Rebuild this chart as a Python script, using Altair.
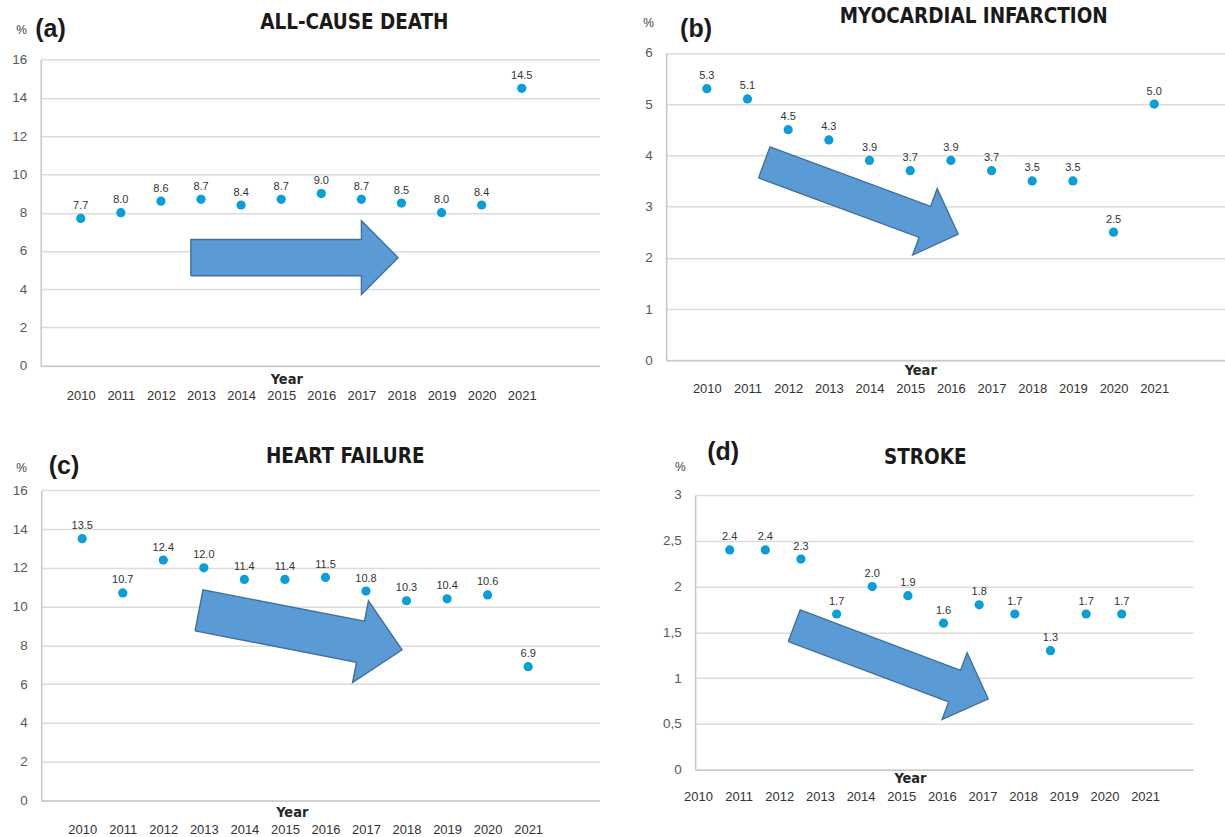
import math

import altair as alt
import pandas as pd

# ---------------------------------------------------------------- data
YEARS = list(range(2010, 2022))
ALL_CAUSE_DEATH = [7.7, 8.0, 8.6, 8.7, 8.4, 8.7, 9.0, 8.7, 8.5, 8.0, 8.4, 14.5]
MYOCARDIAL_INFARCTION = [5.3, 5.1, 4.5, 4.3, 3.9, 3.7, 3.9, 3.7, 3.5, 3.5, 2.5, 5.0]
HEART_FAILURE = [13.5, 10.7, 12.4, 12.0, 11.4, 11.4, 11.5, 10.8, 10.3, 10.4, 10.6, 6.9]
STROKE = [2.4, 2.4, 2.3, 1.7, 2.0, 1.9, 1.6, 1.8, 1.7, 1.3, 1.7, 1.7]

Y_TICKS_16 = [0, 2, 4, 6, 8, 10, 12, 14, 16]
Y_TICKS_6 = [0, 1, 2, 3, 4, 5, 6]
Y_TICKS_3 = [0, 0.5, 1, 1.5, 2, 2.5, 3]

# ---------------------------------------------------------------- styling
POINT_COLOR = "#0A9ED9"
ARROW_FILL = "#5B9BD5"
ARROW_STROKE = "#41719C"
TEXT_DARK = "#1a1a1a"
NARROW = "Liberation Sans Narrow, Arial Narrow, DejaVu Sans Condensed, sans-serif"
REGULAR = "Liberation Sans, Arial, sans-serif"

PANEL_W, PANEL_H = 560, 314
# top-left corner of the first panel's view inside the page
ORIGIN = (40, 52)

# Per-panel layout: scale ranges (pixels inside the view), annotation
# positions and the trend arrow (tail/tip in data units, sizes in pixels).
PANELS = [
    dict(letter="(a)", title="ALL-CAUSE DEATH", values=ALL_CAUSE_DEATH,
         x_domain=[2009, 2022.94], x_range=[0.7, 560],
         y_domain=[0, 16], y_range=[313.7, 7.3], y_ticks=Y_TICKS_16,
         label_pad=30, year_pos=(246.5, 13.3), pct_pos=(-19.7, -23.3),
         letter_pos=(10.5, -23.6), title_pos=(314.6, -28.9),
         arrow=dict(tail=(2012.746, 5.65), tip=(2017.913, 5.65),
                    shaft=36.4, head=74, head_len=36.6)),
    dict(letter="(b)", title="MYOCARDIAL INFARCTION", values=MYOCARDIAL_INFARCTION,
         x_domain=[2009, 2022.74], x_range=[0.7, 560],
         y_domain=[0, 6], y_range=[308.3, 0.5], y_ticks=Y_TICKS_6,
         label_pad=28.4, year_pos=(255, 10.5), pct_pos=(-18.2, -29.6),
         letter_pos=(30.6, -23.6), title_pos=(308.5, -35.6),
         arrow=dict(tail=(2011.412, 3.862), tip=(2016.18, 2.462),
                    shaft=33.1, head=70.8, head_len=35.5)),
    dict(letter="(c)", title="HEART FAILURE", values=HEART_FAILURE,
         x_domain=[2008.99, 2022.76], x_range=[1.3, 560],
         y_domain=[0, 16], y_range=[310.7, 0.3], y_ticks=Y_TICKS_16,
         label_pad=29.3, year_pos=(252, 12), pct_pos=(-20.3, -22.3),
         letter_pos=(24, -23.6), title_pos=(305.5, -33.1),
         arrow=dict(tail=(2012.882, 9.804), tip=(2017.888, 7.768),
                    shaft=41.8, head=83.3, head_len=42.3)),
    dict(letter="(d)", title="STROKE", values=STROKE,
         x_domain=[2009.03, 2023.0], x_range=[29.7, 528],
         label_domain=[2009.93, 2022.18], decimal_comma=True,
         y_domain=[0, 3], y_range=[280, 5], y_ticks=Y_TICKS_3,
         label_pad=27.1, year_pos=(244.7, 9), pct_pos=(-15.2, -23.3),
         letter_pos=(57.7, -38.1), title_pos=(260, -32.1),
         arrow=dict(tail=(2011.811, 1.572), tip=(2017.253, 0.7745),
                    shaft=33.8, head=71.1, head_len=35.9)),
]


def arrow_outline(p):
    """Block-arrow polygon, built in pixel space and mapped back to data units."""
    (d0, d1), (r0, r1) = p["x_domain"], p["x_range"]
    (e0, e1), (b, t) = p["y_domain"], p["y_range"]

    def to_px(x, y):
        return (r0 + (x - d0) / (d1 - d0) * (r1 - r0),
                b + (y - e0) / (e1 - e0) * (t - b))

    def to_data(px, py):
        return (d0 + (px - r0) / (r1 - r0) * (d1 - d0),
                e0 + (py - b) / (t - b) * (e1 - e0))

    a = p["arrow"]
    tx, ty = to_px(*a["tail"])
    hx, hy = to_px(*a["tip"])
    length = math.hypot(hx - tx, hy - ty)
    ux, uy = (hx - tx) / length, (hy - ty) / length
    nx, ny = -uy, ux
    bx, by = hx - ux * a["head_len"], hy - uy * a["head_len"]
    s, h = a["shaft"] / 2, a["head"] / 2
    pts = [
        (tx + nx * s, ty + ny * s), (bx + nx * s, by + ny * s),
        (bx + nx * h, by + ny * h), (hx, hy),
        (bx - nx * h, by - ny * h), (bx - nx * s, by - ny * s),
        (tx - nx * s, ty - ny * s), (tx + nx * s, ty + ny * s),
    ]
    rows = [dict(i=i, year=to_data(*q)[0], v=to_data(*q)[1]) for i, q in enumerate(pts)]
    return pd.DataFrame(rows)


def text_layer(text, pos, size, weight, font, color=TEXT_DARK):
    return alt.Chart(pd.DataFrame({"t": [text]})).mark_text(
        font=font, fontSize=size, fontWeight=weight, color=color,
        align="center", baseline="middle",
    ).encode(x=alt.value(pos[0]), y=alt.value(pos[1]), text="t:N")


def page_corner():
    """Invisible 1px box at the page's top-left corner, so padding starts there."""
    return alt.Chart(pd.DataFrame({"t": [0]})).mark_rect(opacity=0).encode(
        x=alt.value(-ORIGIN[0]), x2=alt.value(-ORIGIN[0] + 1),
        y=alt.value(-ORIGIN[1]), y2=alt.value(-ORIGIN[1] + 1),
    )


def x_axis(p):
    return alt.Axis(
        values=YEARS, tickCount=len(YEARS), format="d", grid=False,
        ticks=False, tickSize=0,
        labelFontSize=13, labelColor="#333333", labelFont=REGULAR,
        labelBaseline="middle", labelPadding=p["label_pad"],
        labelFlush=False, labelOverlap=False,
        offset=p["y_range"][0] - PANEL_H,
        title="Year", titleFont=NARROW, titleFontSize=14.5, titleFontWeight="bold",
        titleColor="#262626", titleX=p["year_pos"][0], titleY=p["year_pos"][1],
        titleAlign="center", titleBaseline="middle", titleAngle=0,
    )


def y_axis(p):
    kw = {}
    if p.get("decimal_comma"):
        kw["labelExpr"] = "replace(datum.label, '.', ',')"
    return alt.Axis(
        values=p["y_ticks"], tickCount=len(p["y_ticks"]), format="~g", grid=True,
        ticks=False, tickSize=0,
        labelFontSize=13.5, labelColor="#595959", labelFont=REGULAR,
        labelPadding=14, labelFlush=False, labelOverlap=False,
        offset=-p["x_range"][0],
        title="%", titleFont=REGULAR, titleFontSize=12, titleFontWeight="normal",
        titleColor="#404040", titleAngle=0, titleX=p["pct_pos"][0],
        titleY=p["pct_pos"][1], titleAlign="center", titleBaseline="middle",
        **kw,
    )


def panel(p, first=False):
    df = pd.DataFrame({"year": YEARS, "v": p["values"]})
    x_scale = alt.Scale(domain=p["x_domain"], rangeMin=p["x_range"][0],
                        rangeMax=p["x_range"][1], nice=False, zero=False)
    y_scale = alt.Scale(domain=p["y_domain"], rangeMin=p["y_range"][0],
                        rangeMax=p["y_range"][1], nice=False, zero=True)
    split_axis = "label_domain" in p

    # the axis is declared once on the points; the other layers share it
    if split_axis:
        x_points = alt.X("year:Q", scale=x_scale, axis=None)
        x_other = alt.X("year:Q", scale=x_scale, axis=None)
    else:
        x_points = alt.X("year:Q", scale=x_scale, axis=x_axis(p))
        x_other = alt.X("year:Q", scale=x_scale)
    y_other = alt.Y("v:Q", scale=y_scale)

    points = alt.Chart(df).mark_circle(size=85, color=POINT_COLOR, opacity=1).encode(
        x=x_points, y=alt.Y("v:Q", scale=y_scale, axis=y_axis(p)),
    )
    values = alt.Chart(df).mark_text(
        dy=-12.5, fontSize=11, font=REGULAR, color="#333333",
    ).encode(
        x=x_other, y=y_other, text=alt.Text("v:Q", format=".1f"),
    )
    arrow = alt.Chart(arrow_outline(p)).mark_line(
        fill=ARROW_FILL, stroke=ARROW_STROKE, strokeWidth=1.4, strokeJoin="miter",
    ).encode(
        x=x_other, y=y_other, order=alt.Order("i:Q"),
    )
    decor = [
        text_layer(p["title"], p["title_pos"], 20.5, "bold", NARROW),
        text_layer(p["letter"], p["letter_pos"], 25, "bold", REGULAR),
    ]
    if first:
        decor.append(page_corner())

    if not split_axis:
        return alt.layer(points, arrow, values, *decor).properties(
            width=PANEL_W, height=PANEL_H)

    # Year labels on their own scale, independent of the point positions
    label_scale = alt.Scale(domain=p["label_domain"], rangeMin=p["x_range"][0],
                            rangeMax=p["x_range"][1], nice=False, zero=False)
    year_axis = alt.Chart(pd.DataFrame({"year": YEARS})).mark_point(opacity=0).encode(
        x=alt.X("year:Q", scale=label_scale, axis=x_axis(p)),
    )
    marks = alt.layer(points, arrow, values)
    return alt.layer(marks, year_axis, *decor).resolve_scale(x="independent").properties(
        width=PANEL_W, height=PANEL_H)


chart = alt.concat(
    *[panel(p, first=(k == 0)) for k, p in enumerate(PANELS)],
    columns=2,
    spacing={"row": 124, "column": 66},
    bounds="flush",
).properties(
    autosize=alt.AutoSizeParams(type="pad"),
    padding=0,
    background="white",
).configure_view(
    stroke=None,
).configure_axis(
    domainColor="#C8C8C8", domainWidth=1.5,
    gridColor="#DCDCDC", gridWidth=1.5,
)

chart.save("out.html", embed_options={"renderer": "svg", "actions": False})
